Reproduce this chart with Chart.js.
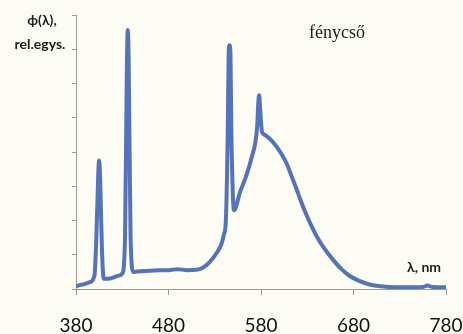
<!DOCTYPE html>
<html>
<head>
<meta charset="utf-8">
<script src="https://cdn.jsdelivr.net/npm/chart.js@4/dist/chart.umd.min.js"></script>
<style>
  html, body { margin: 0; padding: 0; background: #fcfcf5; }
  #wrap { width: 463px; height: 334px; }
</style>
</head>
<body>
<div id="wrap"><canvas id="specChart"></canvas></div>
<script>
// wavelength (nm) and relative spectral power
const wavelengths = [380, 385, 390, 395, 400, 402, 404, 405, 406, 408, 410, 415, 420, 425, 430,
  433, 435, 436, 437, 439, 442, 450, 460, 470, 480, 490, 500, 510, 517, 525, 532, 537, 540, 542,
  544, 545, 546, 547, 548, 550, 551, 557, 564, 570, 574, 576, 577, 578, 579, 581, 584, 588, 592,
  597, 602, 608, 613, 618, 622, 627, 633, 640, 648, 658, 667, 676, 685, 694, 703, 712, 725, 740,
  755, 760, 765, 780];
const power = [0.08, 0.12, 0.15, 0.2, 0.4, 1.5, 3.3, 3.75, 3.3, 1.2, 0.3, 0.3, 0.33, 0.38, 0.45,
  1.5, 6.5, 7.56, 6.5, 1.5, 0.5, 0.52, 0.53, 0.55, 0.55, 0.58, 0.55, 0.56, 0.62, 0.8, 1.05, 1.3, 1.6, 2.0,
  4.5, 6.8, 7.12, 6.8, 4.5, 2.5, 2.3, 2.8, 3.3, 3.85, 4.3, 4.8, 5.4, 5.66, 5.3, 4.6, 4.5, 4.42, 4.32,
  4.15, 3.95, 3.65, 3.3, 2.95, 2.65, 2.3, 1.93, 1.55, 1.2, 0.85, 0.58, 0.38, 0.25, 0.16, 0.1, 0.07, 0.05, 0.05,
  0.06, 0.1, 0.06, 0.05];
const xTicks = [380, 480, 580, 680, 780];

const axisColor = '#9a9a9a';

// extra texts: title and axis labels
const labelsPlugin = {
  id: 'labels',
  beforeDraw(chart) {
    const c = chart.ctx;
    c.save();
    c.fillStyle = '#fcfcf5';
    c.fillRect(0, 0, chart.width, chart.height);
    c.restore();
  },
  afterDraw(chart) {
    const c = chart.ctx;
    c.save();
    c.fillStyle = '#1e1e1e';
    c.textBaseline = 'middle';
    c.textAlign = 'center';
    c.font = 'bold 14px Lato';
    c.fillText('\u03D5(\u03BB),', 42, 20);
    c.fillText('rel.egys.', 40, 44);
    c.fillText('\u03BB, nm', 424, 267);
    c.font = '18px "Liberation Serif"';
    c.fillText('fénycső', 337, 33);
    c.restore();
  }
};

new Chart(document.getElementById('specChart'), {
  type: 'line',
  data: {
    datasets: [{
      data: wavelengths.map((w, i) => ({ x: w, y: power[i] })),
      borderColor: '#5573b9',
      borderWidth: 4,
      pointRadius: 0,
      cubicInterpolationMode: 'monotone',
      fill: false
    }]
  },
  options: {
    responsive: true,
    maintainAspectRatio: false,
    animation: false,
    layout: { padding: { left: 72, right: 17, top: 15, bottom: 0 } },
    plugins: { legend: { display: false }, tooltip: { enabled: false } },
    scales: {
      x: {
        type: 'linear',
        min: 380,
        max: 780,
        afterBuildTicks: axis => { axis.ticks = xTicks.map(v => ({ value: v })); },
        afterFit: axis => {
          axis.height = 45;
          axis.paddingLeft = 0;
          axis.paddingRight = 0;
        },
        grid: { drawOnChartArea: false, drawTicks: true, tickLength: 6, color: axisColor },
        border: { color: axisColor },
        ticks: { padding: 21, color: '#111', font: { family: 'Lato', size: 19, lineHeight: 1 } }
      },
      y: {
        min: 0,
        max: 8,
        ticks: { display: false, stepSize: 1 },
        grid: { drawOnChartArea: false, drawTicks: true, tickLength: 4, color: axisColor },
        border: { color: axisColor }
      }
    }
  },
  plugins: [labelsPlugin]
});
</script>
</body>
</html>
